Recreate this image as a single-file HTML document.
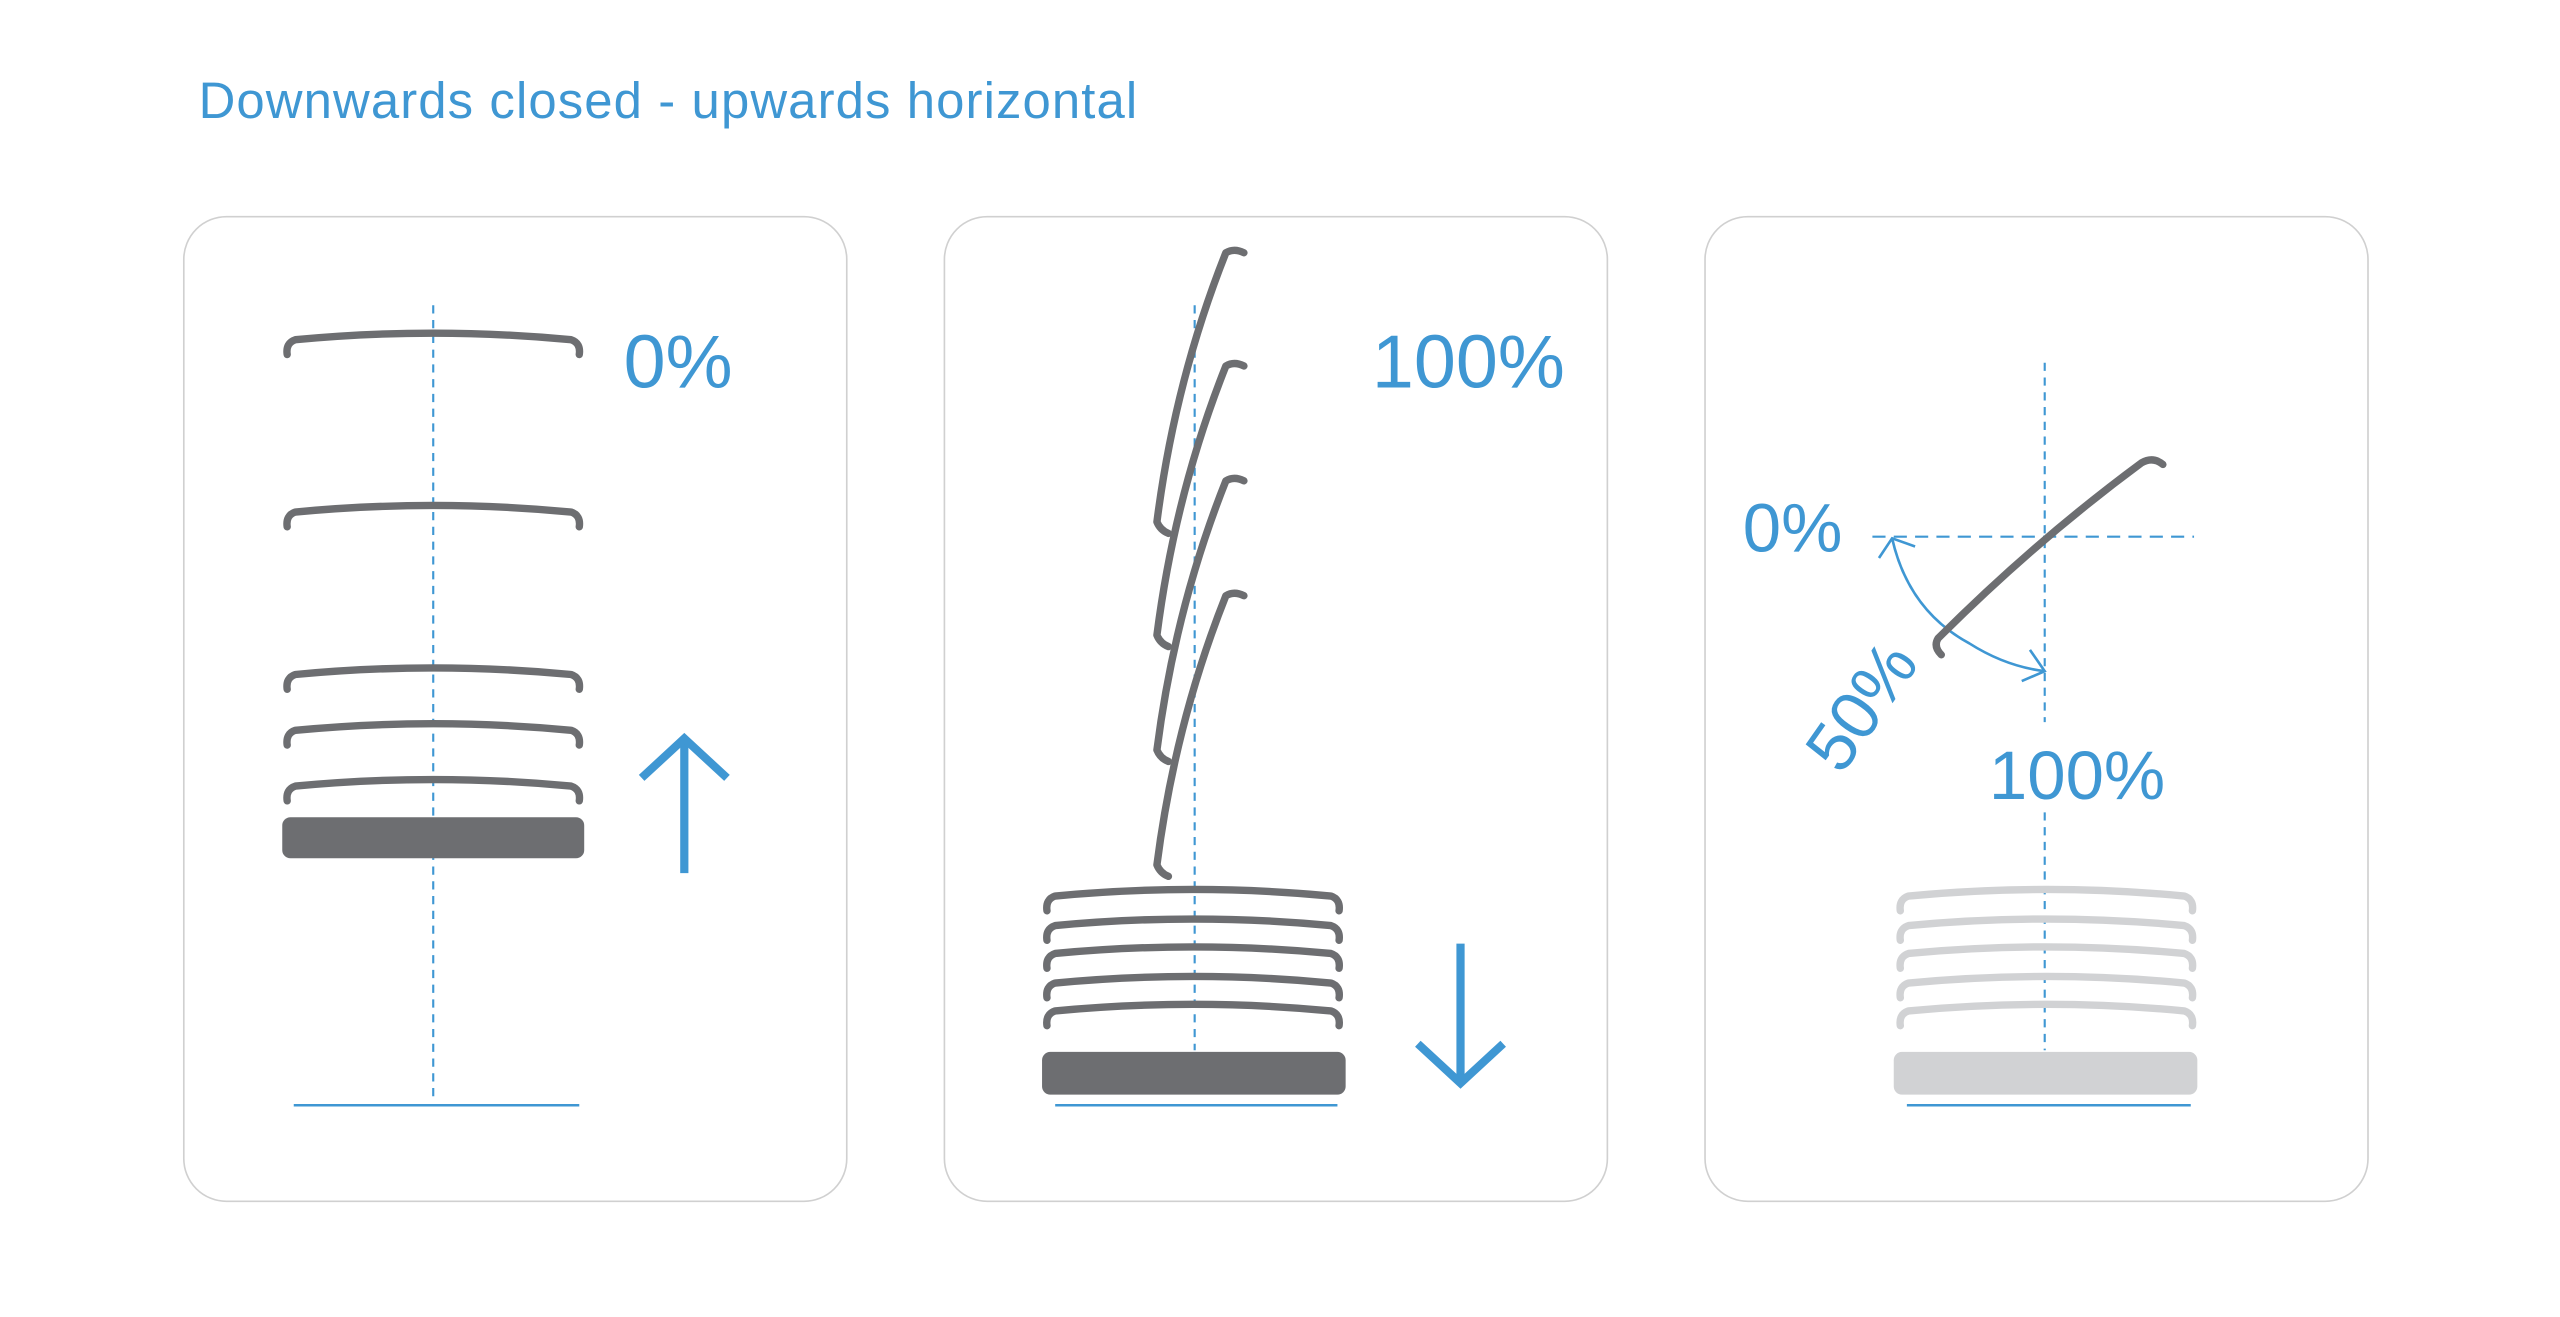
<!DOCTYPE html>
<html><head><meta charset="utf-8"><style>
html,body{margin:0;padding:0;background:#fff;}
svg{display:block;}
text{font-family:"Liberation Sans",sans-serif;fill:#3f97d3;}
</style></head><body>
<svg width="2560" height="1317" viewBox="0 0 1560 802.5" xmlns="http://www.w3.org/2000/svg">
<defs>
<path id="slat" d="M175,216 Q174,209 180,207 Q264,199 348,207 Q354,209 353,216" fill="none" stroke-width="4.5" stroke-linecap="round" stroke-linejoin="round"/>
<path id="tilt" d="M758,154 Q752,151 747,154 Q716,232 705,318 Q707,323 712,325" fill="none" stroke="#6d6e71" stroke-width="4.5" stroke-linecap="round" stroke-linejoin="round"/>
</defs>
<text x="121" y="72" font-size="31" textLength="572" lengthAdjust="spacing">Downwards closed - upwards horizontal</text>

<!-- panels -->
<rect x="112" y="132" width="404" height="600" rx="26" fill="#fff" stroke="#d0d0d0" stroke-width="1"/>
<rect x="575.5" y="132" width="404" height="600" rx="26" fill="#fff" stroke="#d0d0d0" stroke-width="1"/>
<rect x="1039" y="132" width="404" height="600" rx="26" fill="#fff" stroke="#d0d0d0" stroke-width="1"/>

<!-- panel 1 -->
<line x1="264" y1="186" x2="264" y2="668" stroke="#3f97d3" stroke-width="1.3" stroke-dasharray="5,4"/>
<g stroke="#6d6e71">
<use href="#slat" y="0"/>
<use href="#slat" y="105"/>
<use href="#slat" y="204"/>
<use href="#slat" y="238"/>
<use href="#slat" y="272"/>
</g>
<rect x="172" y="498" width="184" height="25" rx="5" fill="#6d6e71"/>
<line x1="179" y1="673.5" x2="353" y2="673.5" stroke="#3f97d3" stroke-width="1.5"/>
<text x="380" y="236" font-size="46">0%</text>
<line x1="417" y1="532" x2="417" y2="452" stroke="#3f97d3" stroke-width="5"/>
<polyline points="391,474 417,450 443,474" fill="none" stroke="#3f97d3" stroke-width="5"/>

<!-- panel 2 -->
<line x1="728" y1="186" x2="728" y2="640" stroke="#3f97d3" stroke-width="1.3" stroke-dasharray="5,4"/>
<use href="#tilt" y="0"/>
<use href="#tilt" y="69"/>
<use href="#tilt" y="139"/>
<use href="#tilt" y="209"/>
<g stroke="#6d6e71">
<use href="#slat" x="463" y="339"/>
<use href="#slat" x="463" y="357"/>
<use href="#slat" x="463" y="374"/>
<use href="#slat" x="463" y="392"/>
<use href="#slat" x="463" y="409"/>
</g>
<rect x="635" y="641" width="185" height="26" rx="5" fill="#6d6e71"/>
<line x1="643" y1="673.5" x2="815" y2="673.5" stroke="#3f97d3" stroke-width="1.5"/>
<text x="836" y="236" font-size="46">100%</text>
<line x1="890" y1="575" x2="890" y2="658" stroke="#3f97d3" stroke-width="5"/>
<polyline points="864,636 890,660 916,636" fill="none" stroke="#3f97d3" stroke-width="5"/>

<!-- panel 3 -->
<line x1="1246" y1="221" x2="1246" y2="440" stroke="#3f97d3" stroke-width="1.3" stroke-dasharray="5,4"/>
<line x1="1246" y1="495" x2="1246" y2="640" stroke="#3f97d3" stroke-width="1.3" stroke-dasharray="5,4"/>
<line x1="1141" y1="327" x2="1337" y2="327" stroke="#3f97d3" stroke-width="1.3" stroke-dasharray="8,5"/>
<g stroke="#d1d2d4">
<use href="#slat" x="983" y="339"/>
<use href="#slat" x="983" y="357"/>
<use href="#slat" x="983" y="374"/>
<use href="#slat" x="983" y="392"/>
<use href="#slat" x="983" y="409"/>
</g>
<rect x="1154" y="641" width="185" height="26" rx="5" fill="#d1d2d4"/>
<line x1="1162" y1="673.5" x2="1335" y2="673.5" stroke="#3f97d3" stroke-width="1.5"/>
<path d="M1153,328 Q1163,372 1200,392 Q1222,406 1246,409" fill="none" stroke="#3f97d3" stroke-width="1.6"/>
<polyline points="1145,340 1153,328 1167,333" fill="none" stroke="#3f97d3" stroke-width="1.6"/>
<polyline points="1237,396 1246,409 1232,415" fill="none" stroke="#3f97d3" stroke-width="1.6"/>
<path d="M1183,399 Q1178,394 1181,389 Q1240,330 1305,282 Q1312,278 1318,283" fill="none" stroke="#6d6e71" stroke-width="4.5" stroke-linecap="round" stroke-linejoin="round"/>
<text x="1062" y="336" font-size="42">0%</text>
<text x="1212" y="487" font-size="42">100%</text>
<text x="0" y="0" font-size="42" transform="translate(1122,473) rotate(-55)">50%</text>
</svg>
</body></html>
